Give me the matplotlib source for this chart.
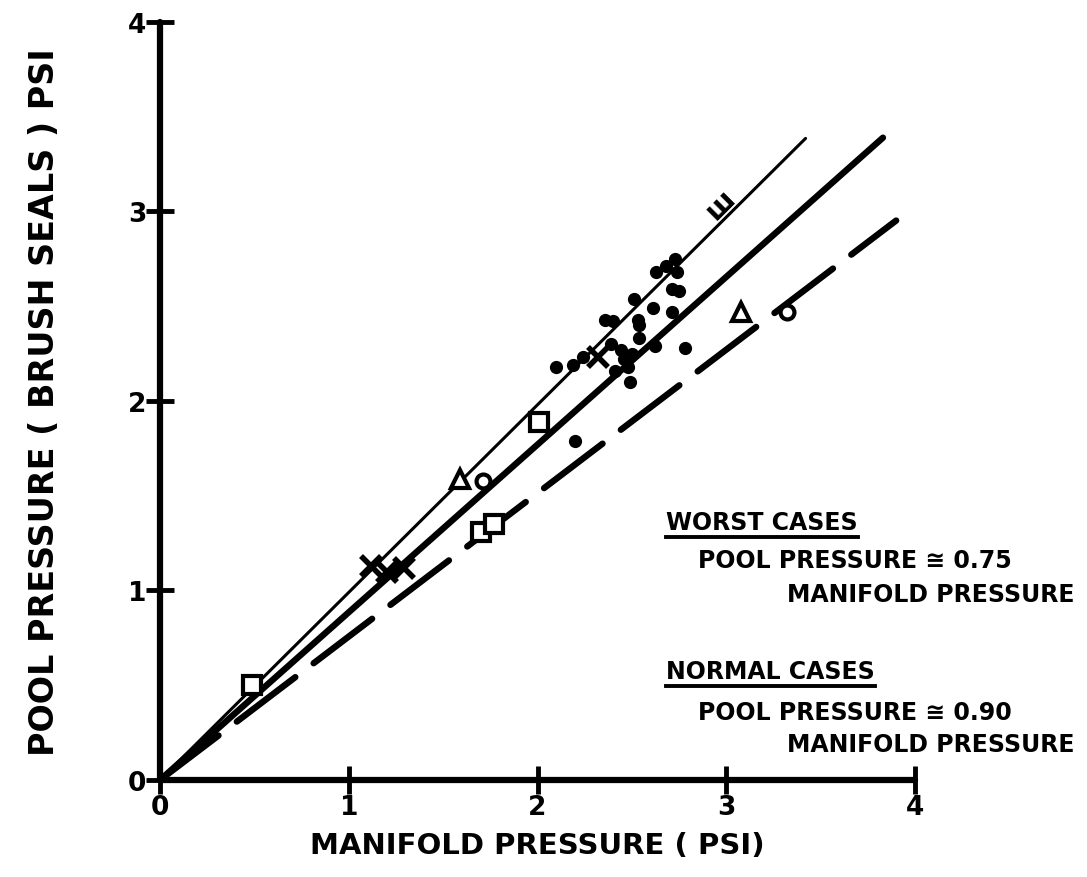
import matplotlib
matplotlib.use("Agg")
import matplotlib.pyplot as plt
import numpy as np

# ---- data ----
square_x = [0.49, 1.70, 1.77, 2.01]
square_y = [0.50, 1.31, 1.35, 1.89]
tri_x = [1.59, 3.08]
tri_y = [1.59, 2.47]
circ_x = [1.71, 3.32]
circ_y = [1.58, 2.47]
cross_x = [1.12, 1.20, 1.29, 2.32]
cross_y = [1.13, 1.10, 1.12, 2.23]
dot_x = [2.10, 2.19, 2.24, 2.36, 2.39, 2.40, 2.51, 2.53, 2.54, 2.61, 2.63, 2.68, 2.73,
         2.74, 2.71, 2.75, 2.71, 2.78, 2.49, 2.62, 2.20, 2.44, 2.46, 2.41, 2.50, 2.48, 2.54]
dot_y = [2.18, 2.19, 2.23, 2.43, 2.30, 2.42, 2.54, 2.43, 2.40, 2.49, 2.68, 2.71, 2.75,
         2.68, 2.59, 2.58, 2.47, 2.28, 2.10, 2.29, 1.79, 2.27, 2.22, 2.16, 2.25, 2.18, 2.33]
w_point = (2.97, 3.04)

# fitted lines: (x end, slope)
thin_end, thin_slope = 3.42, 0.99
normal_end, normal_slope = 3.83, 0.885
worst_end, worst_slope = 3.90, 0.757

xticks = [0, 1, 2, 3, 4]
yticks = [0, 1, 2, 3, 4]

fig = plt.figure(figsize=(10.87, 8.78), dpi=100)
ax = fig.add_axes([0.1472, 0.1105, 0.6946, 0.8633])
ax.set_xlim(0, 4)
ax.set_ylim(0, 4)

for s in ["top", "right"]:
    ax.spines[s].set_visible(False)
for s in ["left", "bottom"]:
    ax.spines[s].set_linewidth(4.5)
    ax.spines[s].set_capstyle("round")

ax.set_xticks(xticks)
ax.set_yticks(yticks)
ax.set_xticklabels([str(t) for t in xticks], fontsize=19, fontweight="bold")
ax.set_yticklabels([str(t) for t in yticks], fontsize=19, fontweight="bold")
ax.tick_params(direction="inout", length=20, width=3.5, pad=0)

# lines
ax.plot([0, thin_end], [0, thin_slope * thin_end], color="black", lw=2.2,
        solid_capstyle="round", clip_on=False)
ax.plot([0, normal_end], [0, normal_slope * normal_end], color="black", lw=4.6,
        solid_capstyle="round", clip_on=False)
ln, = ax.plot([0, worst_end], [0, worst_slope * worst_end], color="black", lw=4.6,
              dash_capstyle="round", clip_on=False)
ln.set_dashes((11.5, 3.6))

# markers
ax.plot(square_x, square_y, ls="none", marker="s", ms=13, mfc="white", mec="black", mew=3)
ax.plot(tri_x, tri_y, ls="none", marker="^", ms=13, mfc="white", mec="black", mew=3)
ax.plot(circ_x, circ_y, ls="none", marker="o", ms=10, mfc="white", mec="black", mew=3)
ax.plot(cross_x, cross_y, ls="none", marker="x", ms=14, mec="black", mew=4)
ax.plot(dot_x, dot_y, ls="none", marker="o", ms=8.5, mfc="black", mec="black")
ax.text(w_point[0], w_point[1], "ш", fontsize=20, fontweight="bold", rotation=45,
        ha="center", va="center")

# axis titles
ax.set_xlabel("MANIFOLD PRESSURE ( PSI)", fontsize=21, fontweight="bold", labelpad=8)
ax.set_ylabel("POOL PRESSURE ( BRUSH SEALS ) PSI", fontsize=24, fontweight="bold", labelpad=48)

# annotations
fs = 17
t1 = ax.text(2.68, 1.36, "WORST CASES", fontsize=fs, fontweight="bold", va="center", ha="left")
ax.text(2.85, 1.16, "POOL PRESSURE \u2245 0.75", fontsize=fs, fontweight="bold", va="center", ha="left")
ax.text(3.32, 0.98, "MANIFOLD PRESSURE", fontsize=fs, fontweight="bold", va="center", ha="left")
t2 = ax.text(2.68, 0.575, "NORMAL CASES", fontsize=fs, fontweight="bold", va="center", ha="left")
ax.text(2.85, 0.36, "POOL PRESSURE \u2245 0.90", fontsize=fs, fontweight="bold", va="center", ha="left")
ax.text(3.32, 0.19, "MANIFOLD PRESSURE", fontsize=fs, fontweight="bold", va="center", ha="left")

fig.canvas.draw()
r = fig.canvas.get_renderer()
inv = ax.transData.inverted()
for t in (t1, t2):
    bb = t.get_window_extent(r)
    (x0, y0), (x1, _) = inv.transform([(bb.x0, bb.y0 - 3), (bb.x1, bb.y0 - 3)])
    ax.plot([x0, x1], [y0, y0], color="black", lw=2.8, clip_on=False)

fig.savefig("out.png", dpi=100, facecolor="white")
